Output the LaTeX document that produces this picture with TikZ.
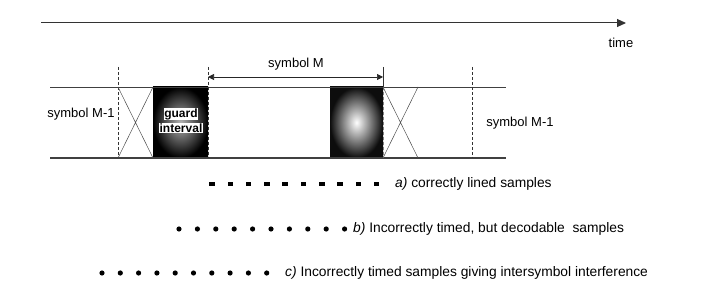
\documentclass[tikz,border=0pt]{standalone}
\usepackage{fontspec}
\setmainfont{Liberation Sans}
\usetikzlibrary{arrows.meta}
\begin{document}
\begin{tikzpicture}[x=1pt,y=-1pt,
  band/.style={draw=black!75, line width=0.9pt},
  guide/.style={draw=black!80, line width=0.6pt, dash pattern=on 3pt off 2pt},
  cross/.style={draw=black!70, line width=0.5pt},
  lbl/.style={font=\fontsize{13}{15}\selectfont, inner sep=0pt},
  rowlbl/.style={font=\fontsize{13.8}{16}\selectfont, inner sep=0pt, anchor=west},
  gtxt/.style={font=\fontsize{12}{13}\selectfont\bfseries, fill=white, inner sep=0.6pt},
  dotc/.style={circle, fill=black, inner sep=0pt, minimum size=5.2pt},
  dotr/.style={rectangle, fill=black, inner sep=0pt, minimum width=5.5pt, minimum height=3.5pt}]
\useasboundingbox (0,0) rectangle (720,288);
% time axis
\coordinate (t0) at (41,23);
\coordinate (t1) at (626,23);
\draw[black!80, line width=1pt, -{Triangle[length=9pt,width=8pt]}] (t0) -- (t1);
\node[lbl] (time) at (621,43) {time};
% band boxes (shaded)
\shade[inner color=black!30, outer color=black] (153,87) rectangle (208,158);
\shade[inner color=white, outer color=black!95] (330,87) rectangle (383,158);
% band lines
\coordinate (bl) at (50,87); \coordinate (br) at (506,87);
\coordinate (dl) at (50,158); \coordinate (dr) at (506,158);
\draw[band] (bl) -- (br);
\draw[band, line width=1.3pt] (dl) -- (dr);
% guides
\coordinate (g1t) at (118,67); \coordinate (g1b) at (118,158);
\coordinate (g2t) at (208,67); \coordinate (g2b) at (208,158);
\coordinate (g3t) at (383,67); \coordinate (g3m) at (383,87); \coordinate (g3b) at (383,158);
\coordinate (g4t) at (472,67); \coordinate (g4b) at (472,158);
\draw[guide] (g1t) -- (g1b);
\draw[guide] (g2t) -- (g2b);
\draw[black!80, line width=0.7pt] (g3t) -- (g3m);
\draw[guide, draw=black!50] (g3m) -- (g3b);
\draw[guide] (g4t) -- (g4b);
% crosses
\draw[cross] (118,87) -- (153,158) (118,158) -- (153,87);
\draw[cross] (383,87) -- (418,158) (383,158) -- (418,87);
% symbol M arrow
\coordinate (sa) at (208,77); \coordinate (sb) at (383,77);
\draw[black!85, line width=0.7pt, {Triangle[length=6pt,width=6pt]}-{Triangle[length=6pt,width=6pt]}] (sa) -- (sb);
\node[lbl] (symM) at (296,64) {symbol M};
\node[lbl] (symL) at (81,114) {symbol M-1};
\node[lbl] (symR) at (520,123) {symbol M-1};
% guard interval
\node[gtxt] (g1) at (181,114) {guard};
\node[gtxt] (g2) at (181,128) {interval};
% sample rows
\foreach \i in {0,...,9} {
  \node[dotr] (a\i) at (212+18.3*\i,184) {};
  \node[dotc] (b\i) at (179+18.4*\i,229) {};
  \node[dotc] (c\i) at (102+18.3*\i,273) {};
}
\node[rowlbl] (ta) at (395,184) {\textit{a)} correctly lined samples};
\node[rowlbl] (tb) at (353,229) {\textit{b)} Incorrectly timed, but decodable\ \ samples};
\node[rowlbl] (tc) at (285,273) {\textit{c)} Incorrectly timed samples giving intersymbol interference};
\end{tikzpicture}
\end{document}
